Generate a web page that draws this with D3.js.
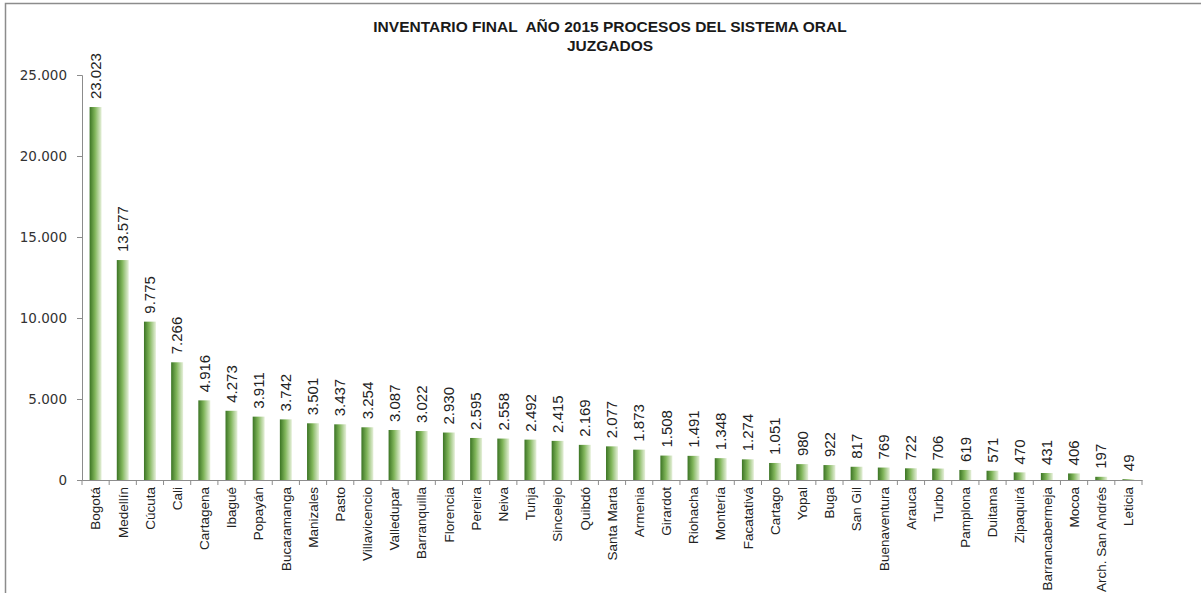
<!DOCTYPE html>
<html>
<head>
<meta charset="utf-8">
<script src="https://cdn.jsdelivr.net/npm/d3@7/dist/d3.min.js"></script>
<style>
  html, body { margin: 0; padding: 0; background: #fff; }
  svg { display: block; }
</style>
</head>
<body>
<svg id="chart" width="1201" height="593"></svg>
<script>
// Inventario final 2015, procesos del sistema oral por distrito judicial
const categories = ["Bogotá","Medellín","Cúcuta","Cali","Cartagena","Ibagué","Popayán","Bucaramanga",
  "Manizales","Pasto","Villavicencio","Valledupar","Barranquilla","Florencia","Pereira","Neiva","Tunja",
  "Sincelejo","Quibdó","Santa Marta","Armenia","Girardot","Riohacha","Montería","Facatativá","Cartago",
  "Yopal","Buga","San Gil","Buenaventura","Arauca","Turbo","Pamplona","Duitama","Zipaquirá",
  "Barrancabermeja","Mocoa","Arch. San Andrés","Leticia"];
const values = [23023,13577,9775,7266,4916,4273,3911,3742,3501,3437,3254,3087,3022,2930,2595,2558,2492,
  2415,2169,2077,1873,1508,1491,1348,1274,1051,980,922,817,769,722,706,619,571,470,431,406,197,49];
const yTicks = [0, 5000, 10000, 15000, 20000, 25000];
const titleLines = ["INVENTARIO FINAL  AÑO 2015 PROCESOS DEL SISTEMA ORAL", "JUZGADOS"];

const svg = d3.select("#chart");
const fmt = v => d3.format(",")(v).replace(/,/g, ".");

// outer frame
svg.append("rect")
  .attr("x", 5.5).attr("y", 3.5).attr("width", 1400).attr("height", 600)
  .attr("fill", "none").attr("stroke", "#8c8c8c").attr("stroke-width", 1.5);

const plotLeft = 82, plotRight = 1142, plotTop = 75, plotBottom = 480;

const x = d3.scaleBand().domain(categories).range([plotLeft, plotRight]).paddingInner(0.56).paddingOuter(0.28);
const y = d3.scaleLinear().domain([0, 25000]).range([plotBottom, plotTop]);

// bar gradient: dark green on the left fading to pale on the right
const grad = svg.append("defs").append("linearGradient")
  .attr("id", "barGrad").attr("x1", "0%").attr("x2", "100%").attr("y1", "0%").attr("y2", "0%");
grad.append("stop").attr("offset", "0%").attr("stop-color", "#3b7424");
grad.append("stop").attr("offset", "45%").attr("stop-color", "#80b55a");
grad.append("stop").attr("offset", "100%").attr("stop-color", "#e6f0da");

// title (keeps the double space after FINAL)
svg.append("g").selectAll("text").data(titleLines).join("text")
  .attr("x", 610).attr("y", (d, i) => 32 + i * 19)
  .attr("text-anchor", "middle")
  .style("white-space", "pre")
  .attr("font-family", "'Liberation Sans', Arial, sans-serif").attr("font-weight", 700)
  .attr("font-size", 15.5).attr("fill", "#1a1a1a")
  .text(d => d);

// y axis
const yAxis = svg.append("g").attr("transform", `translate(${plotLeft},0)`)
  .call(d3.axisLeft(y).tickValues(yTicks).tickFormat(fmt).tickSize(5).tickPadding(10));
yAxis.select(".domain").attr("stroke", "#8c8c8c");
yAxis.selectAll(".tick line").attr("stroke", "#8c8c8c");
yAxis.selectAll(".tick text")
  .attr("font-family", "'DejaVu Sans', sans-serif").attr("font-size", 13.5).attr("fill", "#333");

// x axis with ticks between categories
const xAxis = svg.append("g").attr("transform", `translate(0,${plotBottom})`)
  .call(d3.axisBottom(x).tickSize(0).tickPadding(0));
xAxis.select(".domain").attr("stroke", "#8c8c8c");
xAxis.selectAll(".tick text")
  .attr("transform", "rotate(-90)")
  .attr("text-anchor", "end")
  .attr("x", -7).attr("y", 0).attr("dy", "0.35em")
  .attr("font-family", "'Liberation Sans Narrow', 'Liberation Sans', sans-serif")
  .attr("font-size", 13.5).attr("fill", "#222");

const step = x.step();
const sep = d3.range(categories.length + 1).map(i => plotLeft + i * step);
svg.append("g").selectAll("line").data(sep).join("line")
  .attr("x1", d => d).attr("x2", d => d)
  .attr("y1", plotBottom).attr("y2", plotBottom + 5)
  .attr("stroke", "#8c8c8c");

// bars
svg.append("g").selectAll("rect").data(values).join("rect")
  .attr("x", (d, i) => x(categories[i]))
  .attr("width", x.bandwidth())
  .attr("y", d => y(d))
  .attr("height", d => plotBottom - y(d))
  .attr("fill", "url(#barGrad)");

// value labels
svg.append("g").selectAll("text").data(values).join("text")
  .attr("transform", (d, i) => `translate(${x(categories[i]) + x.bandwidth() / 2},${y(d) - 8}) rotate(-90)`)
  .attr("text-anchor", "start")
  .attr("dy", "0.35em")
  .attr("font-family", "'Liberation Sans Narrow', 'Liberation Sans', sans-serif")
  .attr("font-size", 15).attr("fill", "#222")
  .text(d => fmt(d));
</script>
</body>
</html>
